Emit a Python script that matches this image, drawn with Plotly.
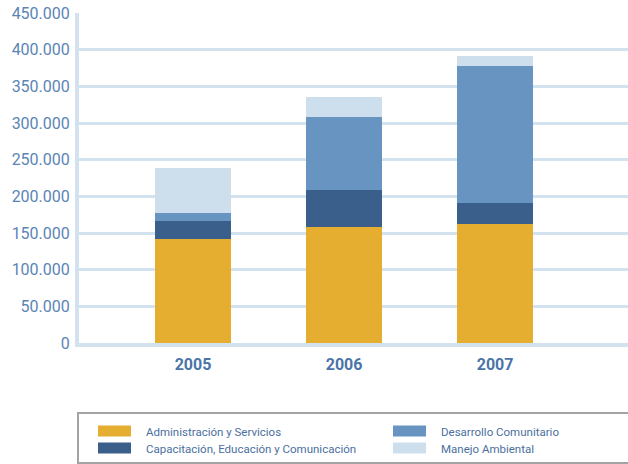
import plotly.graph_objects as go

# Annual budget by program area (stacked)
years = ["2005", "2006", "2007"]
administracion = [142200, 158600, 162600]
capacitacion = [24600, 50400, 28700]
desarrollo = [10900, 99600, 186700]
manejo = [60900, 27200, 13700]

series_names = [
    "Administración y Servicios",
    "Capacitación, Educación y Comunicación",
    "Desarrollo Comunitario",
    "Manejo Ambiental",
]
series_values = [administracion, capacitacion, desarrollo, manejo]
series_colors = ["#e5ae30", "#3a5f8a", "#6794c0", "#cddfed"]

y_ticks = [0, 50000, 100000, 150000, 200000, 250000, 300000, 350000, 400000, 450000]

W, H = 628, 464
L, R, T, B = 79, 0, 13, 121
PW, PH = W - L - R, H - T - B

fig = go.Figure()
for name, vals, col in zip(series_names, series_values, series_colors):
    fig.add_trace(go.Bar(
        x=years, y=vals, name=name, marker=dict(color=col, line=dict(width=0)),
        width=0.5, showlegend=False,
    ))

grid = "#d2e2ef"
fig.update_layout(
    width=W, height=H,
    margin=dict(l=L, r=R, t=T, b=B),
    barmode="stack",
    paper_bgcolor="white", plot_bgcolor="white",
    separators=",.",
    font=dict(family="Roboto", color="#5a85b5"),
    xaxis=dict(
        type="category", range=[-0.755, 2.88],
        showline=True, linecolor=grid, linewidth=4,
        showgrid=False, ticks="", ticklabelstandoff=4,
        tickfont=dict(size=16, color="#4a74a8", family="Roboto", weight="bold"),
    ),
    yaxis=dict(
        range=[0, 450000], tickvals=y_ticks, tickformat=",d",
        showline=True, linecolor=grid, linewidth=4,
        showgrid=True, gridcolor=grid, gridwidth=2.5,
        zeroline=False, ticks="", ticklabelstandoff=2,
        tickfont=dict(size=16, color="#5a85b5", family="Roboto"),
    ),
)

# Custom legend box below the chart
def px_x(p):
    return (p - L) / PW

def px_y(p):
    return (H - B - p) / PH

fig.add_shape(type="rect", xref="paper", yref="paper",
              x0=px_x(78), x1=px_x(640), y0=px_y(413), y1=px_y(463),
              line=dict(color="#a3a3a3", width=2), fillcolor="rgba(0,0,0,0)")

legend_slots = [(98, 431), (98, 448), (393, 431), (393, 448)]
for name, col, (sx, sy) in zip(series_names, series_colors, legend_slots):
    fig.add_shape(type="rect", xref="paper", yref="paper",
                  x0=px_x(sx), x1=px_x(sx + 33), y0=px_y(sy - 5.5), y1=px_y(sy + 5.5),
                  line=dict(width=0), fillcolor=col)
    fig.add_annotation(xref="paper", yref="paper", x=px_x(sx + 46), y=px_y(sy + 1),
                       text=name, showarrow=False, xanchor="left", yanchor="middle",
                       font=dict(size=11.5, color="#4a6fa0", family="Roboto"))

fig.write_html("out.html")
